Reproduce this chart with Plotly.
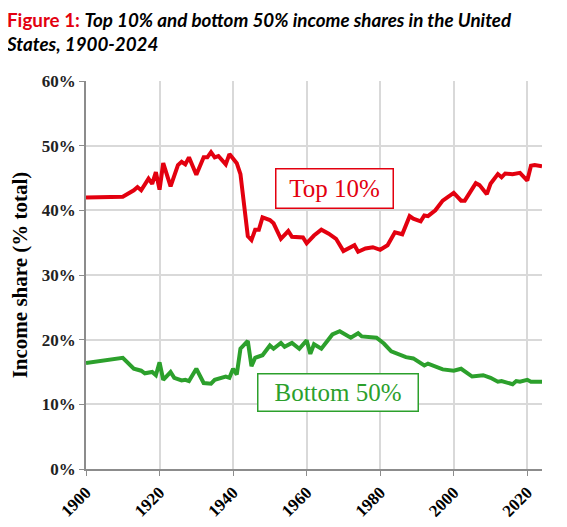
import plotly.graph_objects as go

# Top 10% income share (% of total)
top10_years = [1900, 1910, 1913, 1914, 1915, 1917, 1918, 1919, 1920, 1921, 1923,
               1925, 1926, 1927, 1928, 1930, 1932, 1933, 1934, 1935, 1936, 1938,
               1939, 1941, 1942, 1944, 1945, 1946, 1947, 1948, 1950, 1951, 1953,
               1955, 1956, 1959, 1960, 1962, 1964, 1966, 1968, 1970, 1973, 1974,
               1976, 1978, 1980, 1982, 1984, 1986, 1988, 1989, 1991, 1992, 1993,
               1995, 1997, 2000, 2002, 2003, 2006, 2007, 2009, 2010, 2012, 2013,
               2014, 2016, 2018, 2020, 2021, 2022, 2024]
top10_share = [42.0, 42.1, 43.1, 43.6, 43.1, 44.9, 44.1, 45.9, 43.2, 47.3, 43.7,
               47.0, 47.5, 47.1, 48.2, 45.5, 48.2, 48.2, 49.0, 48.2, 48.4, 47.1,
               48.7, 47.3, 45.6, 36.0, 35.4, 37.0, 37.0, 38.9, 38.5, 38.0, 35.6,
               36.8, 35.9, 35.8, 34.9, 36.1, 37.0, 36.4, 35.6, 33.7, 34.6, 33.6,
               34.1, 34.3, 33.9, 34.6, 36.6, 36.3, 39.1, 38.7, 38.3, 39.2, 39.1,
               40.0, 41.5, 42.7, 41.5, 41.5, 44.2, 43.9, 42.5, 44.1, 45.6, 45.1,
               45.7, 45.6, 45.8, 44.6, 46.9, 47.0, 46.8]

# Bottom 50% income share (% of total)
bot50_years = [1900, 1910, 1913, 1915, 1916, 1918, 1919, 1920, 1921, 1923, 1924,
               1926, 1927, 1928, 1930, 1932, 1934, 1935, 1938, 1939, 1940, 1941,
               1942, 1944, 1945, 1946, 1948, 1950, 1951, 1953, 1954, 1956, 1958,
               1960, 1961, 1962, 1964, 1967, 1969, 1972, 1974, 1975, 1979, 1981,
               1983, 1987, 1989, 1992, 1993, 1997, 2000, 2002, 2005, 2008, 2010,
               2012, 2013, 2015, 2016, 2017, 2018, 2020, 2021, 2024]
bot50_share = [16.4, 17.2, 15.5, 15.2, 14.8, 15.0, 14.5, 16.5, 13.8, 15.0, 14.1,
               13.7, 13.8, 13.6, 15.5, 13.3, 13.2, 13.8, 14.3, 14.1, 15.5, 14.6,
               18.6, 19.8, 15.9, 17.2, 17.6, 19.1, 18.6, 19.5, 18.9, 19.5, 18.6,
               19.9, 17.8, 19.3, 18.6, 20.8, 21.3, 20.3, 21.0, 20.5, 20.3, 19.4,
               18.2, 17.3, 17.1, 16.0, 16.3, 15.4, 15.2, 15.5, 14.3, 14.5, 14.1,
               13.5, 13.6, 13.2, 13.1, 13.6, 13.5, 13.8, 13.5, 13.5]

x_ticks = [1900, 1920, 1940, 1960, 1980, 2000, 2020]
y_ticks = [0, 10, 20, 30, 40, 50, 60]
y_tick_labels = ["0%", "10%", "20%", "30%", "40%", "50%", "60%"]

RED = "#e3000f"
GREEN = "#2ca02c"
SERIF = "Times New Roman, Liberation Serif, serif"

fig = go.Figure([
    go.Scatter(x=top10_years, y=top10_share, mode="lines",
               line=dict(color=RED, width=4), name="Top 10%"),
    go.Scatter(x=bot50_years, y=bot50_share, mode="lines",
               line=dict(color=GREEN, width=4), name="Bottom 50%"),
])

# page body adds an 8px margin, so the figure is 8px smaller each way
fig.update_layout(
    width=559,
    height=519,
    showlegend=False,
    plot_bgcolor="white",
    paper_bgcolor="white",
    margin=dict(l=78, r=25, t=73, b=58),
)

# two-line title, left aligned at the page edge
fig.add_annotation(
    text="<span style='color:#e3000f'>Figure 1:</span> "
         "<i>Top 10% and bottom 50% income shares in the United</i><br>"
         "<i>States, 1900-2024</i>",
    xref="paper", yref="paper", x=-0.18, y=1.193,
    xanchor="left", yanchor="top", align="left", showarrow=False,
    font=dict(family="Lato", size=18.8, color="black", weight="bold"),
)

fig.update_xaxes(
    range=[1900, 2024],
    tickvals=x_ticks,
    tickangle=-45,
    tickfont=dict(family=SERIF, size=17, color="black", weight="bold"),
    showgrid=True, gridcolor="#d9d9d9", gridwidth=1.5,
    showline=True, linecolor="#8c8c8c", linewidth=1.5,
    ticks="outside", ticklen=5, tickcolor="#8c8c8c",
    zeroline=False, automargin=False,
)
fig.update_yaxes(
    range=[0, 60],
    tickvals=y_ticks,
    ticktext=y_tick_labels,
    tickfont=dict(family=SERIF, size=17, color="#222", weight="bold"),
    title=dict(text="Income share (% total)",
               font=dict(family=SERIF, size=21, color="black", weight="bold"),
               standoff=8),
    showgrid=True, gridcolor="#d9d9d9", gridwidth=1.5,
    showline=True, linecolor="#8c8c8c", linewidth=1.5,
    ticks="outside", ticklen=5, tickcolor="#8c8c8c",
    zeroline=False, automargin=False,
)

fig.add_annotation(
    x=1967.7, y=43.4, text="Top 10%", showarrow=False,
    font=dict(family=SERIF, size=25, color=RED),
    bordercolor=RED, borderwidth=1.5, borderpad=5,
    bgcolor="white", width=106, height=28,
)
fig.add_annotation(
    x=1968.4, y=11.9, text="Bottom 50%", showarrow=False,
    font=dict(family=SERIF, size=25, color=GREEN),
    bordercolor=GREEN, borderwidth=1.5, borderpad=5,
    bgcolor="white", width=149, height=26,
)

fig.write_html("out.html")
